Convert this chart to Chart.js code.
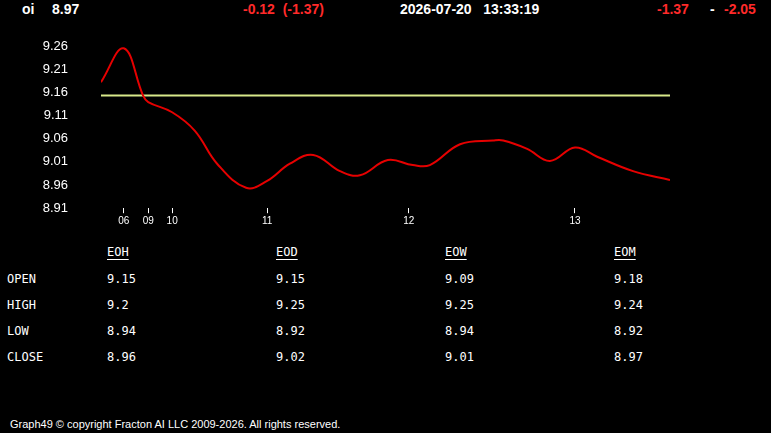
<!DOCTYPE html>
<html>
<head>
<meta charset="utf-8">
<script src="https://cdn.jsdelivr.net/npm/chart.js@4.4.1/dist/chart.umd.min.js"></script>
<style>
  html, body { margin: 0; padding: 0; background: #000; }
  body { width: 771px; height: 433px; position: relative; overflow: hidden; color: #fff; }
  #wrap { position: absolute; left: 0; top: 0; width: 771px; height: 241px; }
  .hdr { position: absolute; top: 1px; font: bold 14px "Liberation Sans", Arial, sans-serif; white-space: pre; }
  .red { color: #ff2a2a; }
  .tbl { position: absolute; font: 12px "DejaVu Sans Mono", monospace; white-space: pre; }
  .uh { text-decoration: underline; text-underline-offset: 3px; }
  #foot { position: absolute; left: 10px; top: 418px; font: 11px "Liberation Sans", Arial, sans-serif; }
</style>
</head>
<body>
<div class="hdr" style="left:22px">oi</div>
<div class="hdr" style="left:52px">8.97</div>
<div class="hdr red" style="left:243px">-0.12  (-1.37)</div>
<div class="hdr" style="left:400px">2026-07-20   13:33:19</div>
<div class="hdr red" style="left:657px">-1.37</div>
<div class="hdr" style="left:710px">-</div>
<div class="hdr red" style="left:724px">-2.05</div>

<div id="wrap"><canvas id="chart"></canvas></div>
<div id="table"></div>
<div id="foot">Graph49 © copyright Fracton AI LLC 2009-2026. All rights reserved.</div>

<script>
// sample positions (bar index) and price values
const samples = [0, 4, 7.4, 8.3, 12.5, 16.5, 20.4, 25.5, 29.2, 33.2, 37.3, 42, 45.5, 50.4, 54.8, 57.8, 63.1, 68.9, 70.7, 74.9, 78.9, 83.3, 87.2, 93.5, 100];
const prices = [9.182, 9.255, 9.153, 9.139, 9.117, 9.077, 9.006, 8.954, 8.969, 9.006, 9.025, 8.990, 8.981, 9.014, 9.003, 9.003, 9.048, 9.056, 9.056, 9.038, 9.012, 9.041, 9.021, 8.990, 8.971];
const refLevel = 9.153;

const hourTickPos = [4, 8.3, 12.5, 29.2, 54.1, 83.3];
const hourTickLabels = ['06', '09', '10', '11', '12', '13'];

const yTicks = [8.91, 8.96, 9.01, 9.06, 9.11, 9.16, 9.21, 9.26];

const colNames = ['EOH', 'EOD', 'EOW', 'EOM'];
const rowNames = ['OPEN', 'HIGH', 'LOW', 'CLOSE'];
const openVals = ['9.15', '9.15', '9.09', '9.18'];
const highVals = ['9.2', '9.25', '9.25', '9.24'];
const lowVals = ['8.94', '8.92', '8.94', '8.92'];
const closeVals = ['8.96', '9.02', '9.01', '8.97'];

// table below the chart
const table = document.getElementById('table');
const colX = [107, 276, 445, 614];
const rowY = [272, 298, 324, 350];
const rows = [openVals, highVals, lowVals, closeVals];
colNames.forEach((c, i) => {
    const d = document.createElement('div');
    d.className = 'tbl uh';
    d.style.left = colX[i] + 'px';
    d.style.top = '245px';
    d.textContent = c;
    table.appendChild(d);
});
rowNames.forEach((r, j) => {
    const d = document.createElement('div');
    d.className = 'tbl';
    d.style.left = '7px';
    d.style.top = rowY[j] + 'px';
    d.textContent = r;
    table.appendChild(d);
    rows[j].forEach((v, i) => {
        const e = document.createElement('div');
        e.className = 'tbl';
        e.style.left = colX[i] + 'px';
        e.style.top = rowY[j] + 'px';
        e.textContent = v;
        table.appendChild(e);
    });
});

new Chart(document.getElementById('chart'), {
    type: 'line',
    data: {
        datasets: [{
            data: samples.map((x, i) => ({ x: x, y: prices[i] })),
            borderColor: '#e60000',
            borderWidth: 2,
            pointRadius: 0,
            tension: 0.4,
            fill: false
        }, {
            data: [{ x: samples[0], y: refLevel }, { x: samples[samples.length - 1], y: refLevel }],
            borderColor: '#d8e88a',
            borderWidth: 2,
            pointRadius: 0,
            fill: false
        }]
    },
    options: {
        responsive: true,
        maintainAspectRatio: false,
        animation: false,
        layout: { padding: { top: 46, right: 101, bottom: 0, left: 0 } },
        plugins: { legend: { display: false }, tooltip: { enabled: false } },
        scales: {
            x: {
                type: 'linear',
                min: 0,
                max: 100,
                border: { display: false },
                grid: { drawOnChartArea: false, color: '#fff', tickLength: 5, tickWidth: 1 },
                afterBuildTicks: axis => { axis.ticks = hourTickPos.map(v => ({ value: v })); },
                afterFit: axis => { axis.height = 32; },
                ticks: {
                    autoSkip: false,
                    maxRotation: 0,
                    padding: 2,
                    color: '#fff',
                    font: { family: 'Liberation Sans, Arial', size: 10 },
                    callback: (v, i) => hourTickLabels[i]
                }
            },
            y: {
                min: 8.91,
                max: 9.26,
                border: { display: false },
                grid: { display: false },
                afterBuildTicks: axis => { axis.ticks = yTicks.map(v => ({ value: v })); },
                afterFit: axis => { axis.width = 101; },
                ticks: {
                    color: '#fff',
                    padding: 25,
                    font: { family: 'Liberation Sans, Arial', size: 13 },
                    callback: v => v.toFixed(2)
                }
            }
        }
    }
});
</script>
</body>
</html>
